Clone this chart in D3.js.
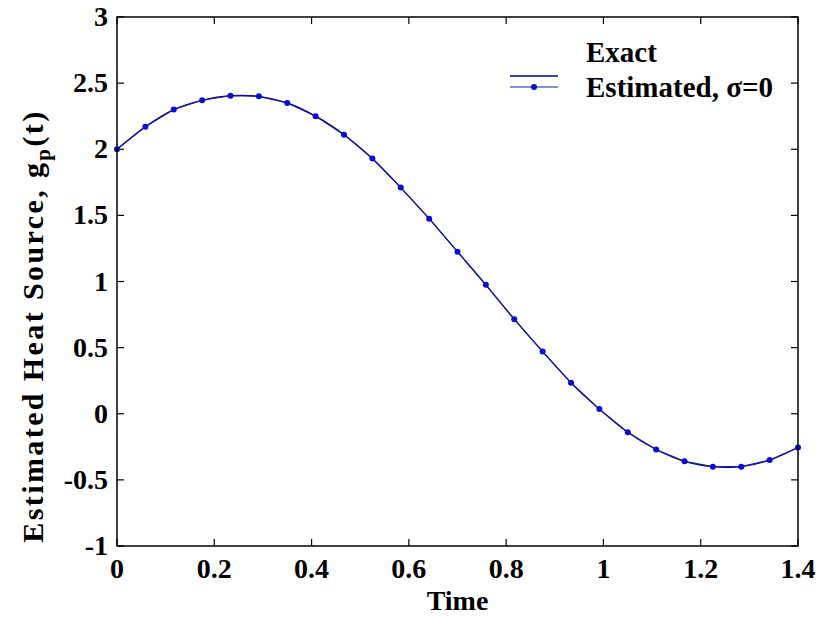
<!DOCTYPE html>
<html>
<head>
<meta charset="utf-8">
<script src="https://cdn.jsdelivr.net/npm/d3@7"></script>
<style>
  html, body { margin: 0; padding: 0; background: #fff; }
  svg text { font-family: "Liberation Serif", "Times New Roman", serif; font-weight: bold; fill: #000; }
</style>
</head>
<body>
<svg id="chart" width="822" height="618"></svg>
<script>
// values
const times = [0, 0.0583, 0.1167, 0.175, 0.2333, 0.2917, 0.35, 0.4083, 0.4667, 0.525,
  0.5833, 0.6417, 0.7, 0.7583, 0.8167, 0.875, 0.9333, 0.9917, 1.05, 1.1083,
  1.1667, 1.225, 1.2833, 1.3417, 1.4];
const exact = [2.0, 2.17, 2.3, 2.37, 2.405, 2.4, 2.35, 2.25, 2.11, 1.93,
  1.71, 1.475, 1.225, 0.975, 0.715, 0.47, 0.235, 0.035, -0.14, -0.27,
  -0.36, -0.4, -0.4, -0.35, -0.255];
const estimated = [2.0, 2.17, 2.3, 2.37, 2.405, 2.4, 2.35, 2.25, 2.11, 1.93,
  1.71, 1.475, 1.225, 0.975, 0.715, 0.47, 0.235, 0.035, -0.14, -0.27,
  -0.36, -0.4, -0.4, -0.35, -0.255];
const xTicks = [0, 0.2, 0.4, 0.6, 0.8, 1, 1.2, 1.4];
const yTicks = [-1, -0.5, 0, 0.5, 1, 1.5, 2, 2.5, 3];

const svg = d3.select('#chart');
const L = 117, R = 798, T = 17, B = 546;
const x = d3.scaleLinear().domain([0, 1.4]).range([L, R]);
const y = d3.scaleLinear().domain([-1, 3]).range([B, T]);
const TICK = 7;
const fmt = d => String(d);

// ticks on all four sides, pointing inward
const axisG = svg.append('g').attr('stroke', '#000').attr('stroke-width', 1.2);
xTicks.forEach(t => {
  axisG.append('line').attr('x1', x(t)).attr('x2', x(t)).attr('y1', B).attr('y2', B - TICK);
  axisG.append('line').attr('x1', x(t)).attr('x2', x(t)).attr('y1', T).attr('y2', T + TICK);
});
yTicks.forEach(t => {
  axisG.append('line').attr('x1', L).attr('x2', L + TICK).attr('y1', y(t)).attr('y2', y(t));
  axisG.append('line').attr('x1', R).attr('x2', R - TICK).attr('y1', y(t)).attr('y2', y(t));
});

svg.selectAll('text.xt').data(xTicks).join('text')
  .attr('class', 'xt')
  .attr('x', d => x(d))
  .attr('y', 578)
  .attr('text-anchor', 'middle')
  .attr('font-size', 28)
  .text(fmt);

svg.selectAll('text.yt').data(yTicks).join('text')
  .attr('class', 'yt')
  .attr('x', 108)
  .attr('y', d => y(d) + 9)
  .attr('text-anchor', 'end')
  .attr('font-size', 28)
  .text(fmt);

svg.append('text')
  .attr('x', (L + R) / 2)
  .attr('y', 610)
  .attr('text-anchor', 'middle')
  .attr('font-size', 28)
  .text('Time');

const yl = svg.append('text')
  .attr('transform', `translate(43,${326}) rotate(-90)`)
  .attr('text-anchor', 'middle')
  .attr('letter-spacing', 2.4)
  .attr('font-size', 30);
yl.append('tspan').text('Estimated Heat Source, g');
yl.append('tspan').attr('dy', 7).attr('font-size', 21).text('p');
yl.append('tspan').attr('dy', -7).text('(t)');

// series
const smooth = d3.line().x((d, i) => x(times[i])).y(d => y(d)).curve(d3.curveCatmullRom);
const straight = d3.line().x((d, i) => x(times[i])).y(d => y(d));

svg.append('path')
  .attr('d', smooth(exact))
  .attr('fill', 'none')
  .attr('stroke', '#000080')
  .attr('stroke-width', 1.3);

svg.append('path')
  .attr('d', straight(estimated))
  .attr('fill', 'none')
  .attr('stroke', '#1a1aa0')
  .attr('stroke-width', 1.1);

svg.selectAll('circle.pt').data(estimated).join('circle')
  .attr('class', 'pt')
  .attr('cx', (d, i) => x(times[i]))
  .attr('cy', d => y(d))
  .attr('r', 3)
  .attr('fill', '#0a0ad0');

// box
svg.append('rect')
  .attr('x', L).attr('y', T)
  .attr('width', R - L).attr('height', B - T)
  .attr('fill', 'none')
  .attr('stroke', '#000')
  .attr('stroke-width', 1.5);

// legend
const lg = svg.append('g');
lg.append('line').attr('x1', 510).attr('x2', 558).attr('y1', 76).attr('y2', 76)
  .attr('stroke', '#000080').attr('stroke-width', 1.3);
lg.append('line').attr('x1', 510).attr('x2', 558).attr('y1', 87).attr('y2', 87)
  .attr('stroke', '#1a1aa0').attr('stroke-width', 1.1);
lg.append('circle').attr('cx', 534).attr('cy', 87).attr('r', 3).attr('fill', '#0a0ad0');
lg.append('text').attr('x', 586).attr('y', 62).attr('font-size', 29).text('Exact');
lg.append('text').attr('x', 586).attr('y', 97).attr('font-size', 29).text('Estimated, σ=0');
</script>
</body>
</html>
